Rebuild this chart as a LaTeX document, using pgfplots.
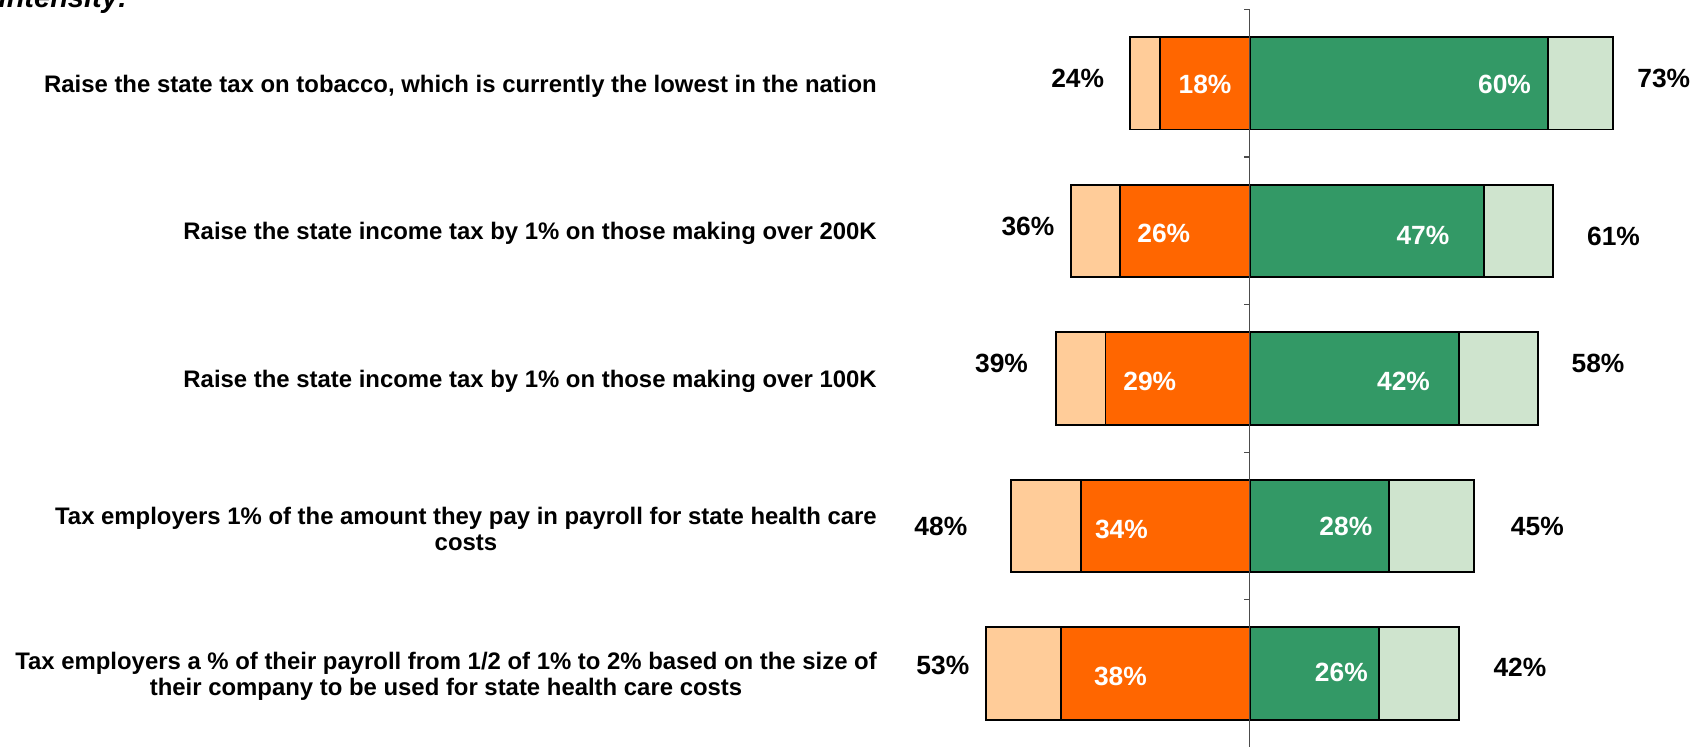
\documentclass[border=0pt]{standalone}
\usepackage{pgfplots}
\pgfplotsset{compat=1.18}
\usepackage{pgfplotstable}
\usepackage{fontspec}
\setmainfont{Liberation Sans}
\definecolor{lorange}{RGB}{255,204,153}
\definecolor{dorange}{RGB}{255,102,0}
\definecolor{dgreen}{RGB}{51,153,102}
\definecolor{lgreen}{RGB}{207,228,206}

\pgfplotstableread{
y totopp stropp strsup totsup
0 -24 -18 60 73
1 -36 -26 47 61
2 -39 -29 42 58
3 -48 -34 28 45
4 -53 -38 26 42
}\data

% outside labels (black)
\pgfplotstableread{
x y v
-34.6 -0.03 24
-44.6 0.97 36
-49.9 1.90 39
-62.1 3.00 48
-61.7 3.945 53
83.2 -0.03 73
73.1 1.04 61
70.0 1.90 58
57.8 3.00 45
54.3 3.96 42
}\outer

% inside labels (white)
\pgfplotstableread{
x y v
-9.0 0.01 18
-17.3 1.02 26
-20.1 2.02 29
-25.8 3.02 34
-26.0 4.02 38
51.2 0.01 60
34.8 1.03 47
30.9 2.02 42
19.3 3.00 28
18.4 3.99 26
}\inner

\begin{document}
\begin{tikzpicture}
\useasboundingbox (0,0) rectangle (170.7mm,-74.7mm);
\node[anchor=base west, inner sep=0pt, font=\fontsize{8.25}{10}\selectfont\bfseries\itshape] at (-0.2mm,-0.7mm) {intensity:};
\begin{axis}[
  at={(170.7mm,0mm)}, anchor=north east,
  x=0.4975mm, y=14.76mm,
  xmin=-74.83, xmax=91.9,
  ymin=-0.564, ymax=4.497,
  y dir=reverse,
  enlargelimits=false,
  clip=false,
  axis x line=none,
  axis y line*=left,
  y axis line style={draw=none},
  ytick={0,1,2,3,4},
  ytick style={draw=none},
  yticklabels={
    {Raise the state tax on tobacco, which is currently the lowest in the nation},
    {Raise the state income tax by 1\% on those making over 200K},
    {Raise the state income tax by 1\% on those making over 100K},
    {Tax employers 1\% of the amount they pay in payroll for state health care\\costs},
    {Tax employers a \% of their payroll from 1/2 of 1\% to 2\% based on the size of\\their company to be used for state health care costs}
  },
  yticklabel style={font=\fontsize{6.8}{7.4}\selectfont\bfseries, align=center, inner sep=0pt, yshift=-0.3mm},
]
\addplot[xbar, bar shift=0pt, bar width=9.25mm, fill=lorange, draw=black, line width=0.55pt] table[x=totopp, y=y] {\data};
\addplot[xbar, bar shift=0pt, bar width=9.25mm, fill=lgreen, draw=black, line width=0.55pt] table[x=totsup, y=y] {\data};
\addplot[xbar, bar shift=0pt, bar width=9.25mm, fill=dorange, draw=black, line width=0.55pt] table[x=stropp, y=y] {\data};
\addplot[xbar, bar shift=0pt, bar width=9.25mm, fill=dgreen, draw=black, line width=0.55pt] table[x=strsup, y=y] {\data};

\draw[black!70, line width=0.35pt] (axis cs:0,-0.5) -- (axis cs:0,4.497);
\draw[black!70, line width=0.35pt] (axis cs:0,-0.5) -- ([xshift=-0.55mm]axis cs:0,-0.5);
\draw[black!70, line width=0.35pt] (axis cs:0,0.5) -- ([xshift=-0.55mm]axis cs:0,0.5);
\draw[black!70, line width=0.35pt] (axis cs:0,1.5) -- ([xshift=-0.55mm]axis cs:0,1.5);
\draw[black!70, line width=0.35pt] (axis cs:0,2.5) -- ([xshift=-0.55mm]axis cs:0,2.5);
\draw[black!70, line width=0.35pt] (axis cs:0,3.5) -- ([xshift=-0.55mm]axis cs:0,3.5);

\addplot[draw=none, mark=none, point meta=explicit symbolic,
  nodes near coords={\pgfplotspointmeta\%}, nodes near coords align={center},
  every node near coord/.append style={anchor=center, font=\fontsize{7.5}{9}\selectfont\bfseries, text=black}]
  table[x=x, y=y, meta=v] {\outer};
\addplot[draw=none, mark=none, point meta=explicit symbolic,
  nodes near coords={\pgfplotspointmeta\%}, nodes near coords align={center},
  every node near coord/.append style={anchor=center, font=\fontsize{7.5}{9}\selectfont\bfseries, text=white}]
  table[x=x, y=y, meta=v] {\inner};
\end{axis}
\end{tikzpicture}
\end{document}
